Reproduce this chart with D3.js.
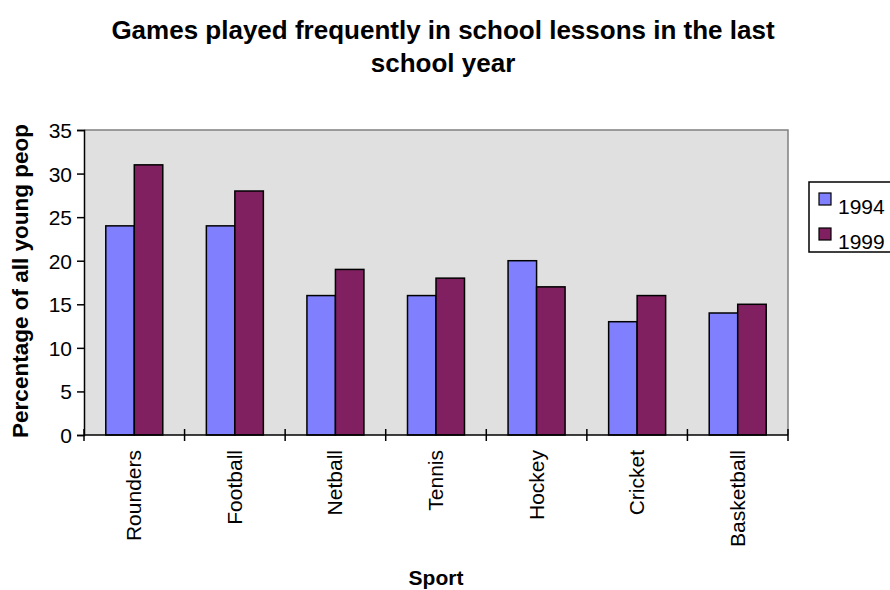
<!DOCTYPE html>
<html><head><meta charset="utf-8">
<script src="https://cdn.jsdelivr.net/npm/d3@7"></script>
<style>body{margin:0;background:#fff}svg{display:block;font-family:"Liberation Sans",Arial,sans-serif}</style>
</head><body><svg id="c" width="890" height="590"></svg>
<script>
const categories = ["Rounders","Football","Netball","Tennis","Hockey","Cricket","Basketball"];
const series = ["1994","1999"];
const values1994 = [24,24,16,16,20,13,14];
const values1999 = [31,28,19,18,17,16,15];
const yTicks = [0,5,10,15,20,25,30,35];
const colors = ["#8080ff","#802060"];

const svg = d3.select("#c");
const L=84,R=788,T=130,B=435;
const x = d3.scaleBand().domain(categories).range([L,R]);
const y = d3.scaleLinear().domain([0,35]).range([B,T]);
const data = [values1994, values1999];
const bw = 28.5;

svg.append("rect").attr("x",L).attr("y",T).attr("width",R-L).attr("height",B-T).attr("fill","#e0e0e0");
svg.append("path").attr("d",`M${L},${T}H${R}V${B}`).attr("fill","none").attr("stroke","#808080").attr("stroke-width",1.5);

categories.forEach((c,i)=>{
  const cx = x(c)+x.bandwidth()/2;
  data.forEach((vals,s)=>{
    svg.append("rect").attr("x",cx-bw+s*bw).attr("y",y(vals[i])).attr("width",bw).attr("height",y(0)-y(vals[i]))
      .attr("fill",colors[s]).attr("stroke","#000").attr("stroke-width",1.5);
  });
});

// y axis
const ya = svg.append("g").attr("transform",`translate(${L},0)`).call(d3.axisLeft(y).tickValues(yTicks).tickSize(7).tickPadding(5));
ya.select(".domain").attr("stroke","#000").attr("stroke-width",1.5);
ya.selectAll(".tick line").attr("stroke","#000").attr("stroke-width",1.5);
ya.selectAll("text").attr("font-size",21).attr("fill","#000").attr("font-family","Liberation Sans, Arial").attr("dy","0.36em");

// x axis with boundary ticks
svg.append("line").attr("x1",L).attr("x2",R).attr("y1",B).attr("y2",B).attr("stroke","#000").attr("stroke-width",1.5);
categories.concat([null]).forEach((c,i)=>{
  const xx = c===null ? R : x(c);
  svg.append("line").attr("x1",xx).attr("x2",xx).attr("y1",B-6).attr("y2",B+6).attr("stroke","#000").attr("stroke-width",1.5);
});
categories.forEach(c=>{
  const cx = x(c)+x.bandwidth()/2;
  svg.append("text").attr("transform",`translate(${cx+7},450) rotate(-90)`).attr("text-anchor","end")
    .attr("font-size",21).text(c);
});

// titles
svg.append("text").attr("x",443).attr("y",39).attr("text-anchor","middle").attr("font-size",26).attr("font-weight","bold").text("Games played frequently in school lessons in the last");
svg.append("text").attr("x",443).attr("y",72).attr("text-anchor","middle").attr("font-size",26).attr("font-weight","bold").text("school year");
svg.append("text").attr("x",436).attr("y",585).attr("text-anchor","middle").attr("font-size",21).attr("font-weight","bold").text("Sport");
svg.append("text").attr("transform","translate(28,281) rotate(-90)").attr("text-anchor","middle").attr("font-size",22.5).attr("font-weight","bold").text("Percentage of all young peop");

// legend
svg.append("rect").attr("x",809).attr("y",182).attr("width",90).attr("height",70).attr("fill","#fff").attr("stroke","#000").attr("stroke-width",1.5);
series.forEach((s,i)=>{
  const yy = 193 + i*35;
  svg.append("rect").attr("x",819).attr("y",yy).attr("width",12).attr("height",12).attr("fill",colors[i]).attr("stroke","#000").attr("stroke-width",1.2);
  svg.append("text").attr("x",838).attr("y",yy+21).attr("font-size",21).text(s);
});
</script></body></html>
